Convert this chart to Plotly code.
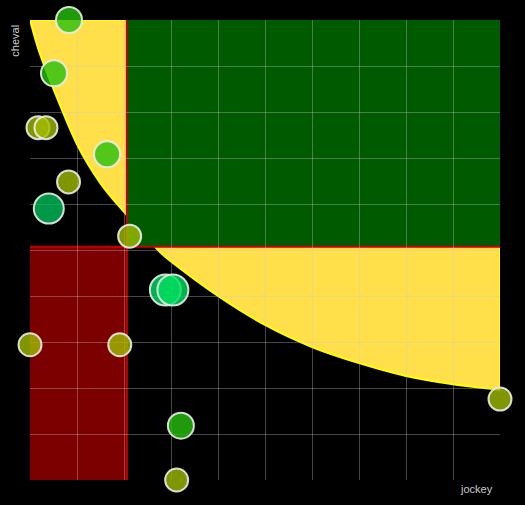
import plotly.graph_objects as go

# ---- data ----
jockey = [0.83, 0.51, 0.17, 0.34, 1.64, 0.82, 0.40, 2.12, 2.88, 3.04, 0.0, 1.91, 10.0, 3.21, 3.12]
cheval = [10.0, 8.84, 7.66, 7.66, 7.08, 6.48, 5.90, 5.30, 4.13, 4.13, 2.94, 2.94, 1.76, 1.18, 0.0]
group = [2, 2, 1, 1, 2, 1, 3, 1, 4, 4, 1, 1, 1, 2, 1]

group_colors = {1: "rgba(160,188,0,0.8)", 2: "rgba(39,193,14,0.8)",
                3: "rgba(0,190,88,0.8)", 4: "rgba(0,222,96,0.8)"}
group_sizes = {1: 23, 2: 26, 3: 30, 4: 31}

jockey_threshold = 2.06
cheval_threshold = 5.07

# boundary of the yellow zone
curve_x = [0, 0.2, 0.5, 1.0, 1.5, 2.06, 2.66, 3.0, 4.0, 5.0, 6.0, 7.0, 8.0, 9.0, 10]
curve_y = [10, 9.3, 8.5, 7.3, 6.45, 5.76, 5.07, 4.75, 4.0, 3.37, 2.89, 2.54, 2.26, 2.08, 1.96]

x_range = [0, 10]
y_range = [0, 10]


def smooth_path(xs, ys):
    pts = list(zip(xs, ys))
    n = len(pts)
    d = f"M {pts[0][0]},{pts[0][1]}"
    for i in range(n - 1):
        p0 = pts[i - 1] if i > 0 else pts[i]
        p1 = pts[i]
        p2 = pts[i + 1]
        p3 = pts[i + 2] if i + 2 < n else pts[i + 1]
        c1 = (p1[0] + (p2[0] - p0[0]) / 6, p1[1] + (p2[1] - p0[1]) / 6)
        c2 = (p2[0] - (p3[0] - p1[0]) / 6, p2[1] - (p3[1] - p1[1]) / 6)
        d += f" C {c1[0]},{c1[1]} {c2[0]},{c2[1]} {p2[0]},{p2[1]}"
    return d


yellow_path = smooth_path(curve_x, curve_y) + f" L {x_range[1]},{y_range[1]} Z"

fig = go.Figure()
fig.add_trace(go.Scatter(
    x=jockey, y=cheval, mode="markers",
    marker=dict(color=[group_colors[g] for g in group],
                size=[group_sizes[g] for g in group],
                opacity=1,
                line=dict(color="rgba(235,235,235,0.9)", width=2)),
    cliponaxis=False, hoverinfo="x+y", showlegend=False,
))

shapes = [
    dict(type="path", path=yellow_path, xref="x", yref="y", layer="below",
         fillcolor="#ffe04b", line=dict(color="#ffff00", width=2)),
    dict(type="rect", xref="x", yref="y", x0=jockey_threshold, x1=x_range[1],
         y0=cheval_threshold, y1=y_range[1], layer="below",
         fillcolor="#005a00", line=dict(width=0)),
    dict(type="rect", xref="x", yref="y", x0=x_range[0], x1=jockey_threshold,
         y0=y_range[0], y1=cheval_threshold, layer="below",
         fillcolor="#7d0000", line=dict(width=0)),
    dict(type="line", xref="x", yref="y", x0=x_range[0], x1=x_range[1],
         y0=cheval_threshold, y1=cheval_threshold, layer="below",
         line=dict(color="#c80000", width=2)),
    dict(type="line", xref="x", yref="y", x0=jockey_threshold, x1=jockey_threshold,
         y0=y_range[0], y1=y_range[1], layer="below",
         line=dict(color="#c80000", width=2)),
]

axis_common = dict(showticklabels=False, ticks="", zeroline=False, showline=False,
                   showgrid=True, gridcolor="rgba(200,200,200,0.35)", gridwidth=1,
                   dtick=1, tick0=0)

fig.update_layout(
    width=525, height=505,
    margin=dict(l=30, r=25, t=20, b=25),
    paper_bgcolor="#000000", plot_bgcolor="#000000",
    font=dict(family="Liberation Sans, Arial, sans-serif", color="#cccccc", size=11),
    xaxis=dict(range=x_range, **axis_common),
    yaxis=dict(range=y_range, **axis_common),
    shapes=shapes,
    annotations=[
        dict(text="cheval", xref="paper", yref="paper", x=-0.032, y=0.955,
             xanchor="center", yanchor="middle", textangle=-90, showarrow=False,
             font=dict(size=11, color="#cccccc")),
        dict(text="jockey", xref="paper", yref="paper", x=0.989, y=-0.02,
             xanchor="right", yanchor="middle", showarrow=False,
             font=dict(size=11, color="#cccccc")),
    ],
)

fig.write_html(
    "out.html",
    config={"displayModeBar": False},
    post_script="document.body.style.margin='0';document.body.style.padding='0';"
                "document.body.style.background='#000';",
)
